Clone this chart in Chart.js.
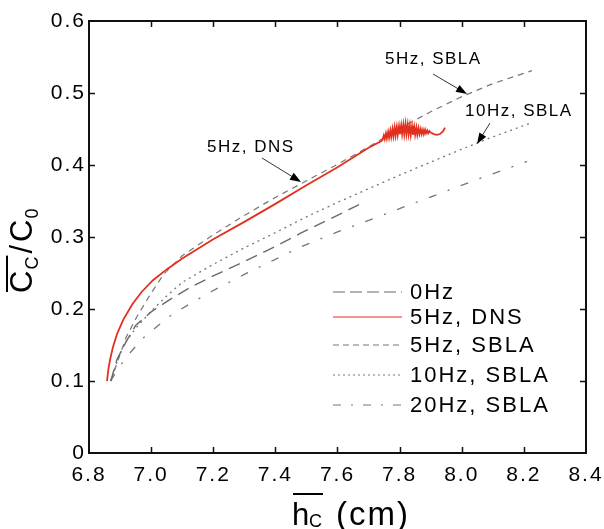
<!DOCTYPE html>
<html>
<head>
<meta charset="utf-8">
<script src="https://cdn.jsdelivr.net/npm/chart.js@4.4.0/dist/chart.umd.min.js"></script>
<style>
    html, body { margin: 0; padding: 0; background: #fff; }
    #wrap { width: 604px; height: 529px; }
</style>
</head>
<body>
<div id="wrap"><canvas id="chart" width="604" height="529"></canvas></div>
<script>
// Achsen
const xTicks = [6.8, 7.0, 7.2, 7.4, 7.6, 7.8, 8.0, 8.2, 8.4];
const yTicks = [0, 0.1, 0.2, 0.3, 0.4, 0.5, 0.6];

// Kurven [h_c, C_c/C_0]
const hz0 = [[6.87,0.10],[6.89,0.13],[6.92,0.155],[6.95,0.177],[7.0,0.196],[7.06,0.213],[7.13,0.231],
    [7.2,0.246],[7.3,0.266],[7.4,0.287],[7.48,0.305],[7.58,0.326],[7.67,0.345]];
const hz5dns = [[6.858,0.10],[6.862,0.115],[6.868,0.13],[6.877,0.147],[6.89,0.165],[6.91,0.185],[6.94,0.207],
    [6.97,0.224],[7.006,0.24],[7.05,0.255],[7.1,0.27],[7.2,0.297],[7.3,0.321],[7.4,0.346],[7.5,0.372],
    [7.6,0.397],[7.7,0.424],[7.74,0.433]];
// Oszillierendes Ende der DNS-Kurve (roter Fleck)
const hz5dnsTail = [[7.745,0.435],[7.749,0.441],[7.752,0.436],[7.756,0.444],[7.759,0.437],[7.763,0.446],
    [7.766,0.438],[7.77,0.448],[7.773,0.439],[7.777,0.45],[7.78,0.44],[7.784,0.452],[7.787,0.441],[7.791,0.453],
    [7.794,0.442],[7.798,0.454],[7.801,0.443],[7.805,0.455],[7.808,0.443],[7.812,0.456],[7.815,0.443],
    [7.819,0.457],[7.822,0.443],[7.826,0.456],[7.829,0.443],[7.833,0.455],[7.836,0.442],[7.84,0.454],
    [7.843,0.442],[7.847,0.453],[7.85,0.442],[7.854,0.452],[7.857,0.442],[7.861,0.451],[7.864,0.443],
    [7.868,0.45],[7.871,0.443],[7.875,0.449],[7.878,0.443],[7.882,0.449],[7.885,0.444],[7.889,0.448],
    [7.892,0.444],[7.896,0.447],[7.9,0.445],[7.91,0.443],[7.92,0.442],[7.93,0.443],[7.94,0.447],[7.946,0.452]];
const hz5sbla = [[6.87,0.10],[6.88,0.112],[6.89,0.125],[6.92,0.161],[6.955,0.19],[7.0,0.222],[7.04,0.248],
    [7.1,0.274],[7.2,0.303],[7.3,0.33],[7.4,0.355],[7.5,0.378],[7.6,0.401],[7.7,0.425],[7.8,0.451],
    [7.9,0.474],[8.0,0.495],[8.1,0.513],[8.226,0.531]];
const hz10sbla = [[6.87,0.10],[6.885,0.12],[6.9,0.138],[6.92,0.155],[6.95,0.173],[7.0,0.197],[7.05,0.218],
    [7.1,0.237],[7.2,0.262],[7.3,0.285],[7.4,0.306],[7.5,0.328],[7.6,0.348],[7.7,0.367],[7.8,0.386],
    [7.9,0.404],[8.0,0.422],[8.1,0.439],[8.22,0.458]];
const hz20sbla = [[6.87,0.10],[6.89,0.115],[6.91,0.127],[6.93,0.138],[6.97,0.158],[7.02,0.176],[7.06,0.19],
    [7.12,0.206],[7.21,0.228],[7.3,0.248],[7.4,0.269],[7.48,0.286],[7.6,0.307],[7.73,0.328],[7.84,0.346],
    [7.94,0.362],[8.05,0.38],[8.21,0.405]];

const labels = ['0Hz', '5Hz, DNS', '5Hz, SBLA', '10Hz, SBLA', '20Hz, SBLA'];

const toPts = arr => arr.map(([x, y]) => ({ x, y }));
const GRAY = '#777777';
const RED = '#e3301e';

const datasets = [
    { label: labels[0], data: toPts(hz0), borderColor: '#6a6a6a', borderWidth: 1.4, borderDash: [12, 7], legendDash: [12, 5] },
    { label: labels[1], data: toPts(hz5dns.concat(hz5dnsTail)), borderColor: RED, borderWidth: 1.8, borderDash: [], legendDash: [] },
    { label: labels[2], data: toPts(hz5sbla), borderColor: GRAY, borderWidth: 1.2, borderDash: [6, 5], legendDash: [6, 4] },
    { label: labels[3], data: toPts(hz10sbla), borderColor: GRAY, borderWidth: 1.3, borderDash: [2, 4], legendDash: [2, 3] },
    { label: labels[4], data: toPts(hz20sbla), borderColor: GRAY, borderWidth: 1.3, borderDash: [8, 12, 2, 12], legendDash: [8, 10, 2, 10] }
].map(ds => Object.assign(ds, { showLine: true, pointRadius: 0, fill: false, tension: 0 }));

const FONT = '"Liberation Sans", Arial, sans-serif';

function arrow(ctx, x1, y1, x2, y2) {
    const a = Math.atan2(y2 - y1, x2 - x1);
    ctx.beginPath();
    ctx.moveTo(x1, y1);
    ctx.lineTo(x2 - 8 * Math.cos(a), y2 - 8 * Math.sin(a));
    ctx.strokeStyle = '#333';
    ctx.lineWidth = 1;
    ctx.stroke();
    ctx.beginPath();
    ctx.moveTo(x2, y2);
    ctx.lineTo(x2 - 11 * Math.cos(a) + 4 * Math.sin(a), y2 - 11 * Math.sin(a) - 4 * Math.cos(a));
    ctx.lineTo(x2 - 11 * Math.cos(a) - 4 * Math.sin(a), y2 - 11 * Math.sin(a) + 4 * Math.cos(a));
    ctx.closePath();
    ctx.fillStyle = '#000';
    ctx.fill();
}

const decorations = {
    id: 'decorations',
    beforeDraw(chart) {
        chart.ctx.letterSpacing = '2px';
    },
    afterDraw(chart) {
        const ctx = chart.ctx;
        const { left, right, top, bottom } = chart.chartArea;
        const xs = chart.scales.x, ys = chart.scales.y;
        ctx.save();
        ctx.letterSpacing = '0px';

        // Rahmen und Ticks nach innen
        ctx.strokeStyle = '#111';
        ctx.lineWidth = 2;
        ctx.strokeRect(left, top, right - left, bottom - top);
        ctx.lineWidth = 1.5;
        ctx.beginPath();
        xTicks.slice(1, -1).forEach(v => {
            const px = Math.round(xs.getPixelForValue(v)) + 0.5;
            ctx.moveTo(px, bottom); ctx.lineTo(px, bottom - 6);
            ctx.moveTo(px, top); ctx.lineTo(px, top + 6);
        });
        yTicks.slice(1, -1).forEach(v => {
            const py = Math.round(ys.getPixelForValue(v)) + 0.5;
            ctx.moveTo(left, py); ctx.lineTo(left + 6, py);
            ctx.moveTo(right, py); ctx.lineTo(right - 6, py);
        });
        ctx.stroke();

        // Legende
        const legendRows = [292, 317, 345, 375, 405];
        ctx.font = '22px ' + FONT;
        ctx.letterSpacing = '2px';
        ctx.textBaseline = 'middle';
        ctx.textAlign = 'left';
        chart.data.datasets.forEach((ds, i) => {
            const y = legendRows[i];
            ctx.beginPath();
            ctx.setLineDash(ds.legendDash);
            ctx.strokeStyle = ds.borderColor;
            ctx.lineWidth = 1.2;
            ctx.moveTo(333, y); ctx.lineTo(402, y);
            ctx.stroke();
            ctx.setLineDash([]);
            ctx.fillStyle = '#000';
            ctx.fillText(ds.label, 410, y + 1);
        });

        // Beschriftungen mit Pfeilen
        ctx.font = '17px ' + FONT;
        ctx.letterSpacing = '1.5px';
        ctx.fillStyle = '#000';
        ctx.fillText('5Hz, DNS', 207, 147);
        ctx.fillText('5Hz, SBLA', 385, 59);
        ctx.fillText('10Hz, SBLA', 465, 111);
        ctx.letterSpacing = '0px';
        arrow(ctx, 262, 158, 301, 182);
        arrow(ctx, 433, 74, 467, 94);
        arrow(ctx, 490, 123, 477, 144);

        // x-Achsentitel: h_C (cm) mit Querstrich
        ctx.fillStyle = '#000';
        ctx.textBaseline = 'alphabetic';
        ctx.letterSpacing = '1px';
        ctx.font = '31px ' + FONT;
        ctx.fillText('h', 292, 525);
        ctx.font = '18px ' + FONT;
        ctx.fillText('C', 309, 527);
        ctx.fillRect(293, 493, 30, 2);
        ctx.font = '33px ' + FONT;
        ctx.letterSpacing = '2px';
        ctx.fillText('(cm)', 336, 525);

        // y-Achsentitel: C_C / C_0 mit Querstrich
        ctx.save();
        ctx.translate(32, 293);
        ctx.rotate(-Math.PI / 2);
        ctx.letterSpacing = '3px';
        ctx.font = '31px ' + FONT;
        let t = 0;
        ctx.fillText('C', t, 0);
        t += ctx.measureText('C').width - 2;
        ctx.font = '18px ' + FONT;
        ctx.fillText('C', t, 6);
        t += ctx.measureText('C').width;
        ctx.fillRect(1, -26, t - 3, 2);
        ctx.font = '31px ' + FONT;
        ctx.fillText('/C', t, 0);
        t += ctx.measureText('/C').width - 2;
        ctx.font = '18px ' + FONT;
        ctx.fillText('0', t, 6);
        ctx.restore();

        ctx.restore();
    }
};

new Chart(document.getElementById('chart'), {
    type: 'scatter',
    data: { datasets },
    options: {
        responsive: false,
        devicePixelRatio: 1,
        animation: false,
        layout: { padding: { top: 21, right: 18, left: 0, bottom: 0 } },
        plugins: {
            legend: { display: false },
            tooltip: { enabled: false }
        },
        scales: {
            x: {
                type: 'linear',
                min: 6.8,
                max: 8.4,
                afterBuildTicks: scale => { scale.ticks = xTicks.map(v => ({ value: v })); },
                afterFit: scale => {
                    scale.height = 76;
                    scale.paddingLeft = 0;
                    scale.paddingRight = 0;
                },
                ticks: {
                    autoSkip: false,
                    maxRotation: 0,
                    padding: 10,
                    color: '#000',
                    font: { family: FONT, size: 21 },
                    callback: v => v.toFixed(1)
                },
                grid: { display: false, drawTicks: false },
                border: { display: false }
            },
            y: {
                type: 'linear',
                min: 0,
                max: 0.6,
                afterBuildTicks: scale => { scale.ticks = yTicks.map(v => ({ value: v })); },
                afterFit: scale => {
                    scale.width = 89;
                    scale.paddingTop = 0;
                    scale.paddingBottom = 0;
                },
                ticks: {
                    autoSkip: false,
                    padding: 3,
                    color: '#000',
                    font: { family: FONT, size: 21 },
                    callback: v => (v === 0 ? '0' : v.toFixed(1))
                },
                grid: { display: false, drawTicks: false },
                border: { display: false }
            }
        }
    },
    plugins: [decorations]
});
</script>
</body>
</html>
